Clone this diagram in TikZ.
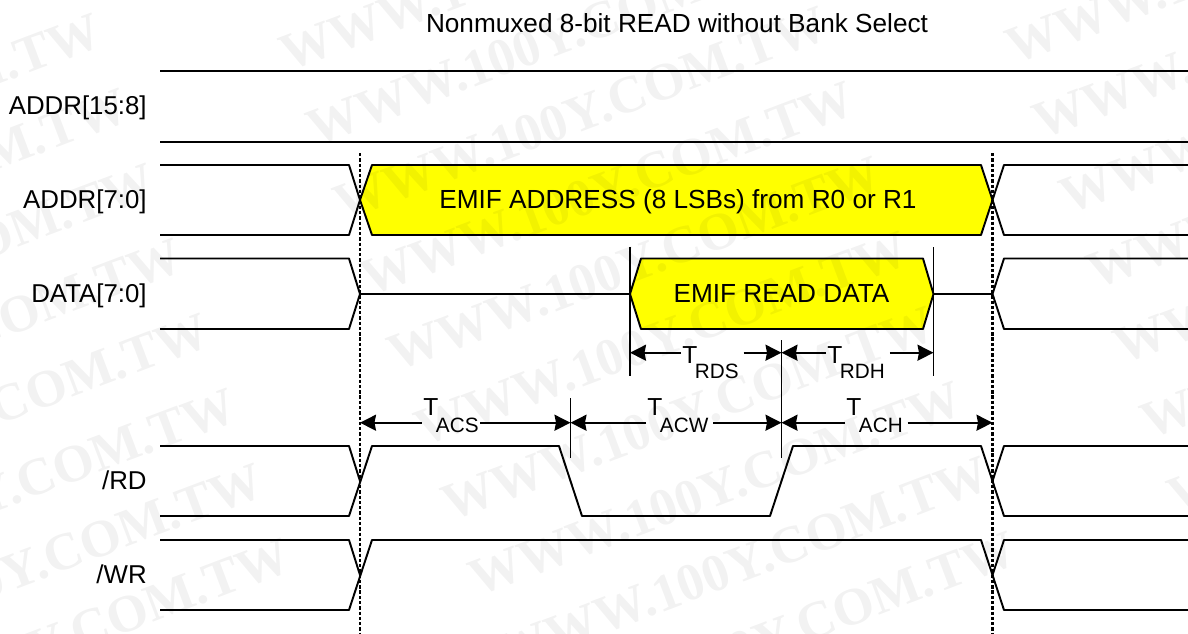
\documentclass[tikz,border=0pt]{standalone}
\usepackage{fontspec}
\setmainfont{Liberation Sans}
\newfontfamily\markfont{Liberation Serif}
\usetikzlibrary{arrows.meta}
\definecolor{emifyellow}{HTML}{FFFF00}
\newcommand{\tparam}[2]{T\kern-1.4pt\raisebox{#2}{\fontsize{11.8}{13}\selectfont #1}}

\begin{document}
\begin{tikzpicture}[x=0.02cm,y=-0.02cm,
    >={Stealth[length=0.32cm,width=0.32cm,inset=0.03cm]},
    sigline/.style={line width=1.1pt,line join=round},
    busfill/.style={sigline,fill=emifyellow},
    edgemark/.style={line width=1.4pt,dash pattern=on 1.9pt off 1.1pt},
    tick/.style={line width=1.0pt},
    dimline/.style={->,line width=1.0pt},
    siglabel/.style={anchor=base east,inner sep=0pt,font=\fontsize{14.7}{17}\selectfont},
    buslabel/.style={anchor=base,inner sep=0pt,font=\fontsize{14.9}{17}\selectfont},
    timelabel/.style={anchor=base west,inner sep=0.6pt,font=\fontsize{14}{16}\selectfont}]
\useasboundingbox (0,0) rectangle (1188,633);

\node[buslabel] (title) at (677,32) {Nonmuxed 8-bit READ without Bank Select};

% signal names
\node[siglabel] (addrhi) at (147,114) {ADDR[15:8]};
\node[siglabel] (addrlo) at (147,208) {ADDR[7:0]};
\node[siglabel] (datasig) at (147,302) {DATA[7:0]};
\node[siglabel] (rdsig) at (147,489) {/RD};
\node[siglabel] (wrsig) at (147,583) {/WR};

% ADDR[15:8]
\draw[sigline] (160,71) -- (1188,71);
\draw[sigline] (160,142) -- (1188,142);

% ADDR[7:0]
\draw[sigline] (160,165) -- (349,165) -- (360,200) -- (349,235) -- (160,235);
\draw[busfill] (360,200) -- (372,165) -- (981,165) -- (992.5,200) -- (981,235) -- (372,235) -- cycle;
\draw[sigline] (1188,165) -- (1004,165) -- (992.5,200) -- (1004,235) -- (1188,235);

% DATA[7:0]
\draw[sigline] (160,258.5) -- (349,258.5) -- (360,294) -- (349,329) -- (160,329);
\draw[sigline] (360,294) -- (630,294);
\draw[busfill] (630,294) -- (641,258.5) -- (923,258.5) -- (933.5,294) -- (923,329) -- (641,329) -- cycle;
\draw[sigline] (933.5,294) -- (992.5,294);
\draw[sigline] (1188,258.5) -- (1004,258.5) -- (992.5,294) -- (1004,329) -- (1188,329);

% /RD
\draw[sigline] (160,446) -- (349,446) -- (360,481);
\draw[sigline] (160,516) -- (349,516) -- (372,446) -- (559,446) -- (582,516) -- (770,516)
  -- (793,446) -- (981,446) -- (1004,516) -- (1188,516);
\draw[sigline] (992.5,481) -- (1004,446) -- (1188,446);

% /WR
\draw[sigline] (160,540) -- (349,540) -- (360,575);
\draw[sigline] (160,610) -- (349,610) -- (372,540) -- (981,540) -- (1004,610) -- (1188,610);
\draw[sigline] (992.5,575) -- (1004,540) -- (1188,540);

% clock edges
\coordinate (edgeltop) at (360,153);
\coordinate (edgelbot) at (360,633);
\coordinate (edgertop) at (992.5,153);
\coordinate (edgerbot) at (992.5,633);
\draw[edgemark] (edgeltop) -- (edgelbot);
\draw[edgemark] (edgertop) -- (edgerbot);

% timing ticks
\coordinate (rdstop) at (630,247);
\coordinate (rdsbot) at (630,376);
\coordinate (rdhtop) at (933.5,247);
\coordinate (rdhbot) at (933.5,376);
\coordinate (midtop) at (781.5,340);
\coordinate (midbot) at (781.5,458);
\coordinate (acwtop) at (570.5,398);
\coordinate (acwbot) at (570.5,458);
\draw[tick] (rdstop) -- (rdsbot);
\draw[tick] (rdhtop) -- (rdhbot);
\draw[tick] (midtop) -- (midbot);
\draw[tick] (acwtop) -- (acwbot);

% timing labels
\node[timelabel] (trds) at (681,363) {\tparam{RDS}{-8.6pt}};
\node[timelabel] (trdh) at (826,363) {\tparam{RDH}{-8.6pt}};
\node[timelabel] (tacs) at (422,415) {\tparam{ACS}{-9.8pt}};
\node[timelabel] (tacw) at (646,415) {\tparam{ACW}{-9.8pt}};
\node[timelabel] (tach) at (845,415) {\tparam{ACH}{-9.8pt}};

\coordinate (rdsl) at (630,352.7);
\coordinate (rdsm) at (781.5,352.7);
\coordinate (rdhr) at (933.5,352.7);
\coordinate (acsl) at (360,422.7);
\coordinate (acsm) at (570.5,422.7);
\coordinate (achm) at (781.5,422.7);
\coordinate (achr) at (992.5,422.7);

\draw[dimline] (trds.west |- rdsl) -- (rdsl);
\draw[dimline] ([xshift=2pt]trds.east |- rdsl) -- (rdsm);
\draw[dimline] (trdh.west |- rdsl) -- (rdsm);
\draw[dimline] ([xshift=2pt]trdh.east |- rdsl) -- (rdhr);
\draw[dimline] (tacs.west |- acsl) -- (acsl);
\draw[dimline] (tacs.east |- acsl) -- (acsm);
\draw[dimline] (tacw.west |- acsl) -- (acsm);
\draw[dimline] ([xshift=2pt]tacw.east |- acsl) -- (achm);
\draw[dimline] (tach.west |- acsl) -- (achm);
\draw[dimline] ([xshift=2pt]tach.east |- acsl) -- (achr);

% bus contents
\node[buslabel] (addrtext) at (678,208) {EMIF ADDRESS (8 LSBs) from R0 or R1};
\node[buslabel] (datatext) at (781.5,302) {EMIF READ DATA};

% watermark
\begin{scope}
\clip (0,0) rectangle (1188,633);
\foreach \col in {-2,...,1} {
  \foreach \row in {-3,...,9} {
    \node[anchor=base west,inner sep=0pt,rotate=20.7,text=black,text opacity=0.05,
          font=\fontsize{30}{32}\selectfont\markfont\bfseries]
      (mark\col\row) at (288+726*\col+27*\row,72-7*\col+75*\row) {WWW.100Y.COM.TW};
  }
}
\end{scope}
\end{tikzpicture}
\end{document}
